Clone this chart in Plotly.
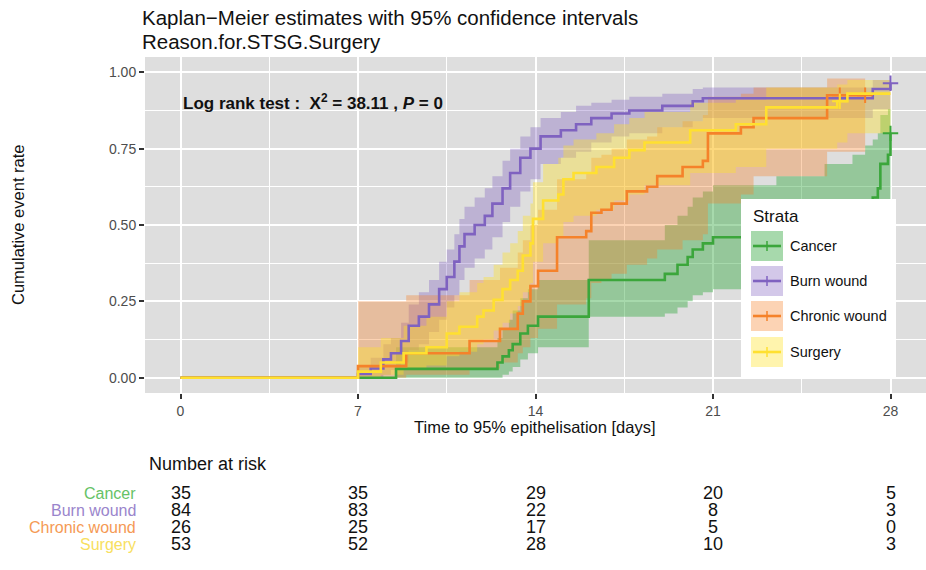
import plotly.graph_objects as go

W, H = 926, 570

# ---------------- data ----------------
groups = ["Cancer", "Burn wound", "Chronic wound", "Surgery"]

cancer_t = [0, 8.5, 12.5, 12.7, 12.95, 13.1, 13.4, 13.7, 14.1, 16.1, 19.1, 19.6, 20.0, 20.2,
            20.6, 21.0, 23.5, 25.4, 26.5, 27.0, 27.3, 27.5, 27.6, 27.9, 28.0]
cancer_est = [0, 0.029, 0.05, 0.07, 0.09, 0.11, 0.145, 0.17, 0.20, 0.32, 0.34, 0.37, 0.395, 0.42,
              0.44, 0.46, 0.48, 0.50, 0.52, 0.56, 0.59, 0.62, 0.70, 0.73, 0.80]
cancer_lo = [0, 0.0, 0.0, 0.01, 0.02, 0.035, 0.06, 0.08, 0.10, 0.20, 0.21, 0.23, 0.25, 0.27,
             0.28, 0.29, 0.31, 0.33, 0.35, 0.38, 0.40, 0.43, 0.49, 0.52, 0.58]
cancer_hi = [0, 0.10, 0.13, 0.16, 0.19, 0.22, 0.26, 0.29, 0.32, 0.45, 0.50, 0.53, 0.56, 0.59,
             0.61, 0.63, 0.66, 0.70, 0.73, 0.76, 0.78, 0.80, 0.86, 0.88, 0.92]

burn_t = [0, 7.0, 7.5, 8.0, 8.3, 8.7, 9.0, 9.4, 9.8, 10.2, 10.5, 10.8, 11.0, 11.2, 11.6, 12.0,
          12.3, 12.7, 13.0, 13.4, 13.8, 14.2, 15.0, 15.6, 16.2, 17.0, 17.7, 19.0, 20.2, 20.6, 27.3, 28.0]
burn_est = [0, 0.012, 0.03, 0.06, 0.08, 0.12, 0.17, 0.20, 0.24, 0.29, 0.33, 0.38, 0.43, 0.47, 0.50,
            0.53, 0.57, 0.62, 0.67, 0.72, 0.75, 0.79, 0.81, 0.83, 0.85, 0.865, 0.875, 0.89, 0.905,
            0.915, 0.945, 0.964]
burn_lo = [0, 0.0, 0.0, 0.01, 0.025, 0.05, 0.09, 0.11, 0.15, 0.19, 0.23, 0.27, 0.32, 0.36, 0.39,
           0.42, 0.46, 0.51, 0.56, 0.61, 0.65, 0.70, 0.72, 0.74, 0.77, 0.79, 0.80, 0.82, 0.84, 0.85,
           0.88, 0.89]
burn_hi = [0, 0.035, 0.065, 0.11, 0.13, 0.18, 0.24, 0.28, 0.32, 0.38, 0.42, 0.47, 0.52, 0.56, 0.59,
           0.62, 0.66, 0.71, 0.75, 0.79, 0.82, 0.85, 0.87, 0.89, 0.90, 0.91, 0.92, 0.93, 0.945, 0.95,
           0.975, 0.99]

chronic_t = [0, 7.0, 8.9, 11.4, 12.6, 13.3, 13.5, 13.8, 14.1, 14.85, 16.0, 16.2, 16.6, 17.0, 17.6,
             18.4, 18.8, 19.8, 20.6, 20.8, 22.1, 22.6, 25.5, 27.0]
chronic_est = [0, 0.038, 0.08, 0.12, 0.16, 0.21, 0.25, 0.30, 0.35, 0.46, 0.48, 0.54, 0.55, 0.57, 0.61,
               0.625, 0.66, 0.69, 0.71, 0.80, 0.82, 0.85, 0.925, 0.925]
chronic_lo = [0, 0.0, 0.01, 0.03, 0.05, 0.08, 0.10, 0.13, 0.16, 0.24, 0.26, 0.31, 0.32, 0.34, 0.37,
              0.39, 0.42, 0.45, 0.47, 0.57, 0.60, 0.66, 0.74, 0.74]
chronic_hi = [0, 0.25, 0.27, 0.32, 0.36, 0.41, 0.45, 0.50, 0.55, 0.65, 0.67, 0.72, 0.73, 0.75, 0.78,
              0.79, 0.82, 0.84, 0.86, 0.92, 0.93, 0.95, 0.98, 0.98]

surgery_t = [0, 7.0, 7.9, 8.8, 9.7, 10.5, 11.0, 11.7, 11.95, 12.35, 12.7, 13.0, 13.3, 13.5, 13.8,
             13.9, 14.3, 14.9, 15.1, 15.5, 16.4, 17.1, 17.7, 18.3, 20.1, 21.9, 23.1, 25.9, 26.3, 28.0]
surgery_est = [0, 0.02, 0.05, 0.08, 0.10, 0.145, 0.167, 0.20, 0.22, 0.255, 0.29, 0.32, 0.35, 0.40,
               0.44, 0.52, 0.58, 0.60, 0.65, 0.67, 0.69, 0.72, 0.745, 0.77, 0.81, 0.83, 0.885, 0.905,
               0.93, 0.93]
surgery_lo = [0, 0.0, 0.01, 0.025, 0.04, 0.07, 0.085, 0.11, 0.125, 0.155, 0.18, 0.21, 0.235, 0.28,
              0.31, 0.38, 0.44, 0.46, 0.51, 0.53, 0.55, 0.58, 0.60, 0.63, 0.67, 0.69, 0.75, 0.77,
              0.80, 0.80]
surgery_hi = [0, 0.10, 0.13, 0.17, 0.20, 0.25, 0.28, 0.31, 0.33, 0.37, 0.41, 0.44, 0.48, 0.53,
              0.57, 0.64, 0.70, 0.72, 0.76, 0.78, 0.80, 0.83, 0.85, 0.87, 0.90, 0.91, 0.95, 0.96,
              0.975, 0.975]

# censoring marks (time, cumulative event rate)
cancer_cens_t, cancer_cens_y = [28.0], [0.80]
burn_cens_t, burn_cens_y = [28.0], [0.964]
chronic_cens_t, chronic_cens_y = [26.0, 27.0], [0.925, 0.925]
surgery_cens_t, surgery_cens_y = [26.0], [0.905]

# number at risk table
risk_times = [0, 7, 14, 21, 28]
risk_cancer = [35, 35, 29, 20, 5]
risk_burn = [84, 83, 22, 8, 3]
risk_chronic = [26, 25, 17, 5, 0]
risk_surgery = [53, 52, 28, 10, 3]

x_ticks = [0, 7, 14, 21, 28]
y_ticks = [0, 0.25, 0.5, 0.75, 1.0]
y_tick_text = ["0.00", "0.25", "0.50", "0.75", "1.00"]

# ---------------- styling ----------------
line_colors = ["#3ba63b", "#7f62c0", "#f5822a", "#ffe030"]
fill_colors = ["rgba(60,170,70,0.45)", "rgba(128,96,192,0.35)",
               "rgba(245,130,40,0.35)", "rgba(255,225,40,0.38)"]
label_colors = ["#66c266", "#9a85cc", "#f59a55", "#f8e060"]
FONT = "Liberation Sans, Arial, sans-serif"

series = [
    (cancer_t, cancer_est, cancer_lo, cancer_hi, cancer_cens_t, cancer_cens_y, risk_cancer),
    (burn_t, burn_est, burn_lo, burn_hi, burn_cens_t, burn_cens_y, risk_burn),
    (chronic_t, chronic_est, chronic_lo, chronic_hi, chronic_cens_t, chronic_cens_y, risk_chronic),
    (surgery_t, surgery_est, surgery_lo, surgery_hi, surgery_cens_t, surgery_cens_y, risk_surgery),
]


def px(x):
    return x / W


def py(y):
    return 1 - y / H


def label(x, y, text, size, color="#111", xanchor="left", **kw):
    return dict(x=x, y=y, xref=kw.pop("xref", "paper"), yref="paper", xanchor=xanchor,
                yanchor="middle", showarrow=False, text=text,
                font=dict(family=FONT, size=size, color=color), **kw)


fig = go.Figure()

# confidence bands
for (t, est, lo, hi, ct, cy, risk), fc in zip(series, fill_colors):
    fig.add_trace(go.Scatter(x=t, y=lo, mode="lines", line=dict(width=0, shape="hv"),
                             hoverinfo="skip", showlegend=False))
    fig.add_trace(go.Scatter(x=t, y=hi, mode="lines", line=dict(width=0, shape="hv"),
                             fill="tonexty", fillcolor=fc, hoverinfo="skip", showlegend=False))

# step curves and censor marks
for (t, est, lo, hi, ct, cy, risk), lc, name in zip(series, line_colors, groups):
    fig.add_trace(go.Scatter(x=t, y=est, mode="lines", name=name,
                             line=dict(color=lc, width=2.6, shape="hv"), showlegend=False))
    fig.add_trace(go.Scatter(x=ct, y=cy, mode="markers", showlegend=False,
                             marker=dict(symbol="cross-thin", size=11,
                                         line=dict(color=lc, width=2))))

annotations = []
shapes = []

# titles
annotations.append(label(px(140), py(18), "Kaplan\u2212Meier estimates with 95% confidence intervals", 20.5))
annotations.append(label(px(140), py(41), "Reason.for.STSG.Surgery", 20.5))

# axis titles
annotations.append(label(px(18), py(225), "Cumulative event rate", 16.5, xanchor="center",
                         textangle=-90))
annotations.append(label(px(535), py(427), "Time to 95% epithelisation [days]", 16.5,
                         xanchor="center"))

# log-rank test
annotations.append(label(px(181), py(102),
                         "<b>Log rank test :  X<sup>2</sup> = 38.11 , <i>P</i> = 0</b>", 17))

# legend box
shapes.append(dict(type="rect", xref="paper", yref="paper", x0=px(741), x1=px(896),
                   y0=py(379), y1=py(199), fillcolor="white", line=dict(width=0), layer="above"))
annotations.append(label(px(751), py(216), "Strata", 17))
legend_rows = [246, 281, 316, 352]
for name, lc, fc, yc in zip(groups, line_colors, fill_colors, legend_rows):
    shapes.append(dict(type="rect", xref="paper", yref="paper", x0=px(751), x1=px(783),
                       y0=py(yc + 15), y1=py(yc - 15), fillcolor=fc, line=dict(width=0),
                       layer="above"))
    shapes.append(dict(type="line", xref="paper", yref="paper", x0=px(753), x1=px(781),
                       y0=py(yc), y1=py(yc), line=dict(color=lc, width=2.6), layer="above"))
    shapes.append(dict(type="line", xref="paper", yref="paper", x0=px(767), x1=px(767),
                       y0=py(yc - 5), y1=py(yc + 5), line=dict(color=lc, width=1.5),
                       layer="above"))
    annotations.append(label(px(788), py(yc), name, 14.5))

# number at risk table
annotations.append(label(px(147), py(464), "Number at risk", 18))
risk_rows = [493, 510, 527, 544]
for (t, est, lo, hi, ct, cy, risk), name, lab_c, yr in zip(series, groups, label_colors, risk_rows):
    annotations.append(label(px(138), py(yr), name, 16, color=lab_c, xanchor="right"))
    for tx, n in zip(risk_times, risk):
        annotations.append(label(tx, py(yr), str(n), 18, xanchor="center", xref="x"))

fig.update_layout(
    width=W, height=H, autosize=False,
    margin=dict(l=0, r=0, t=0, b=0),
    paper_bgcolor="white", plot_bgcolor="#dedede",
    showlegend=False,
    annotations=annotations, shapes=shapes,
    xaxis=dict(domain=[px(145), 1], range=[-1.4, 29.4], tickmode="array", tickvals=x_ticks,
               ticks="outside", ticklen=5, tickwidth=1.5, tickcolor="#333",
               tickfont=dict(family=FONT, size=14, color="#4d4d4d"),
               showgrid=True, gridcolor="white", gridwidth=1.5, zeroline=False, showline=False,
               minor=dict(dtick=3.5, tick0=0, showgrid=True, gridcolor="white", gridwidth=0.7),
               automargin=False, fixedrange=True),
    yaxis=dict(domain=[py(393), py(57)], range=[-0.05, 1.05], tickmode="array",
               tickvals=y_ticks, ticktext=y_tick_text,
               ticks="outside", ticklen=5, tickwidth=1.5, tickcolor="#333",
               tickfont=dict(family=FONT, size=14, color="#4d4d4d"),
               showgrid=True, gridcolor="white", gridwidth=1.5, zeroline=False, showline=False,
               minor=dict(dtick=0.125, tick0=0, showgrid=True, gridcolor="white", gridwidth=0.7),
               automargin=False, fixedrange=True),
)

fig.write_html("out.html")
